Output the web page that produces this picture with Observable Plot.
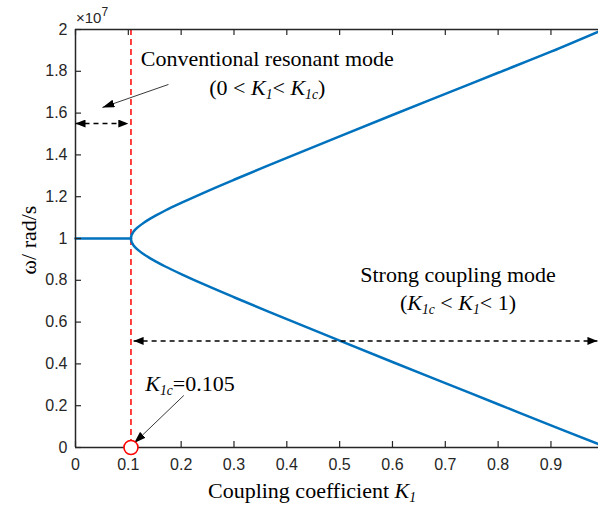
<!DOCTYPE html>
<html>
<head>
<meta charset="utf-8">
<script src="https://cdn.jsdelivr.net/npm/d3@7"></script>
<script src="https://cdn.jsdelivr.net/npm/@observablehq/plot@0.6"></script>
<style>
  html, body { margin: 0; padding: 0; background: #fff; }
  #chart svg { display: block; }
</style>
</head>
<body>
<div id="chart"></div>
<script>
// ---------- data (ω in units of 10^7 rad/s) ----------
const xTicks = [0, 0.1, 0.2, 0.3, 0.4, 0.5, 0.6, 0.7, 0.8, 0.9];
const xTickLabels = ["0", "0.1", "0.2", "0.3", "0.4", "0.5", "0.6", "0.7", "0.8", "0.9"];
const yTicks = [0, 0.2, 0.4, 0.6, 0.8, 1, 1.2, 1.4, 1.6, 1.8, 2];
const yTickLabels = ["0", "0.2", "0.4", "0.6", "0.8", "1", "1.2", "1.4", "1.6", "1.8", "2"];

const criticalK = 0.105;

const kFlat = [0, 0.105];
const omegaFlat = [1, 1];

const kBranch    = [0.105, 0.106, 0.108, 0.11, 0.115, 0.12, 0.13, 0.14, 0.15, 0.17, 0.2, 0.25, 0.3, 0.4, 0.5, 0.6, 0.7, 0.8, 0.9, 0.99];
const omegaUpper = [1.000, 1.015, 1.025, 1.033, 1.047, 1.058, 1.077, 1.093, 1.107, 1.134, 1.170, 1.227, 1.281, 1.386, 1.489, 1.591, 1.692, 1.793, 1.894, 1.990];
const omegaLower = [1.000, 0.985, 0.975, 0.967, 0.953, 0.942, 0.923, 0.907, 0.893, 0.866, 0.830, 0.773, 0.719, 0.614, 0.511, 0.409, 0.308, 0.207, 0.106, 0.016];

// annotation spans / pointers (data coordinates)
const convSpanK = [0, 0.1];       const convSpanOmega = 1.55;
const strongSpanK = [0.11, 0.988]; const strongSpanOmega = 0.51;
const convPointer = {k1: 0.176, w1: 1.737, k2: 0.051, w2: 1.627};
const critPointer = {k1: 0.205, w1: 0.249, k2: 0.111, w2: 0.021};

// ---------- layout ----------
const W = 598, H = 509;
const mL = 75, mT = 29, mB = 62, mR = 0;
const innerW = W - mL - mR, innerH = H - mT - mB;
const axisColor = "#262626";
const lineColor = "#0072BD";

const flatData = kFlat.map((k, i) => ({k, w: omegaFlat[i]}));
const branchData = [
  ...kBranch.map((k, i) => ({k, w: omegaLower[i]})).reverse(),
  ...kBranch.slice(1).map((k, i) => ({k, w: omegaUpper[i + 1]}))
];

const chart = Plot.plot({
  width: W, height: H,
  marginLeft: mL, marginTop: mT, marginBottom: mB, marginRight: mR,
  x: {domain: [0, 0.99]},
  y: {domain: [0, 2]},
  style: {background: "#fff", fontFamily: "'Liberation Sans', Arial, sans-serif", fontSize: "16px", overflow: "visible"},
  marks: [
    // critical coupling line
    Plot.ruleX([criticalK], {stroke: "#ff0000", strokeWidth: 1.5, strokeDasharray: "6,4"}),
    // curves
    Plot.line(flatData, {x: "k", y: "w", stroke: lineColor, strokeWidth: 2.5}),
    Plot.line(branchData, {x: "k", y: "w", stroke: lineColor, strokeWidth: 2.5, curve: "catmull-rom"}),
    // box lines
    Plot.ruleY([0, 2], {stroke: axisColor, strokeWidth: 1.5}),
    Plot.ruleX([0], {stroke: axisColor, strokeWidth: 1.5}),
    // inward ticks
    Plot.ruleX(xTicks, {stroke: axisColor, strokeWidth: 1.2, insetTop: innerH - 6}),
    Plot.ruleX(xTicks, {stroke: axisColor, strokeWidth: 1.2, insetBottom: innerH - 6}),
    Plot.ruleY(yTicks, {stroke: axisColor, strokeWidth: 1.2, insetRight: innerW - 6}),
    // tick labels
    Plot.axisX(xTicks, {tickSize: 0, tickPadding: 11, label: null, color: axisColor, fontSize: 16,
      tickFormat: d => xTickLabels[xTicks.indexOf(d)]}),
    Plot.axisY(yTicks, {tickSize: 0, tickPadding: 8, label: null, color: axisColor, fontSize: 16,
      tickFormat: d => yTickLabels[yTicks.indexOf(d)]}),
    // dashed double arrows
    Plot.link([{k1: convSpanK[0], k2: convSpanK[1], w: convSpanOmega},
               {k1: strongSpanK[0], k2: strongSpanK[1], w: strongSpanOmega}],
      {x1: "k1", x2: "k2", y1: "w", y2: "w", stroke: "#000", strokeWidth: 1.5,
       strokeDasharray: "5,4", className: "dbl-arrow"}),
    // pointer arrows
    Plot.link([convPointer, critPointer],
      {x1: "k1", y1: "w1", x2: "k2", y2: "w2", stroke: "#222", strokeWidth: 0.9, className: "ptr-arrow"}),
    // critical point marker
    Plot.dot([{k: criticalK, w: 0}], {x: "k", y: "w", r: 7, stroke: "#ff0000", strokeWidth: 1.6, fill: "#fff"})
  ]
});

document.getElementById("chart").appendChild(chart);

// ---------- markers & rich text ----------
const svg = d3.select(chart);
const xs = chart.scale("x"), ys = chart.scale("y");
const X = v => xs.apply(v), Y = v => ys.apply(v);

const defs = svg.insert("defs", ":first-child");
function addMarker(id, len, wid) {
  defs.append("marker")
    .attr("id", id).attr("viewBox", `0 0 ${len} ${wid}`)
    .attr("refX", len).attr("refY", wid / 2)
    .attr("markerWidth", len).attr("markerHeight", wid)
    .attr("markerUnits", "userSpaceOnUse")
    .attr("orient", "auto-start-reverse")
    .append("path").attr("d", `M0,0L${len},${wid / 2}L0,${wid}Z`).attr("fill", "#000");
}
addMarker("head-dbl", 10, 8);
addMarker("head-ptr", 12, 8);
svg.selectAll(".dbl-arrow path").attr("marker-start", "url(#head-dbl)").attr("marker-end", "url(#head-dbl)");
svg.selectAll(".ptr-arrow path").attr("marker-end", "url(#head-ptr)");

const serif = "'Liberation Serif', 'Times New Roman', serif";
function rich(x, y, parts, {anchor = "middle", size = 22, rotate = 0} = {}) {
  const t = svg.append("text")
    .attr("x", x).attr("y", y)
    .attr("text-anchor", anchor)
    .style("font-family", serif)
    .style("font-size", size + "px")
    .attr("fill", "#000");
  if (rotate) t.attr("transform", `rotate(${rotate},${x},${y})`);
  let shifted = false;
  const subShift = size * 0.16;
  for (const [s, style] of parts) {
    const sp = t.append("tspan").text(s);
    if (style.includes("i")) sp.style("font-style", "italic");
    if (style.includes("s")) {
      sp.style("font-size", (size * 0.62) + "px");
      if (!shifted) { sp.attr("dy", subShift); shifted = true; }
    } else if (shifted) {
      sp.attr("dy", -subShift); shifted = false;
    }
  }
  return t;
}

// region labels
rich(X(0.364), Y(1.823), [["Conventional resonant mode", ""]]);
rich(X(0.364), Y(1.684), [["(0 < ", ""], ["K", "i"], ["1", "is"], ["< ", ""], ["K", "i"], ["1c", "is"], [")", ""]]);
rich(X(0.725), Y(0.789), [["Strong coupling mode", ""]]);
rich(X(0.725), Y(0.655), [["(", ""], ["K", "i"], ["1c", "is"], [" < ", ""], ["K", "i"], ["1", "is"], ["< 1)", ""]]);
rich(X(0.133), Y(0.268), [["K", "i"], ["1c", "is"], ["=0.105", ""]], {anchor: "start"});

// axis titles
rich(312, 498, [["Coupling coefficient ", ""], ["K", "i"], ["1", "is"]]);
rich(36, 240, [["ω/ rad/s", ""]], {rotate: -90});

// exponent label
const ex = svg.append("text")
  .attr("x", X(0) + 1).attr("y", Y(2) - 6)
  .attr("text-anchor", "start")
  .style("font-family", "'Liberation Sans', Arial, sans-serif")
  .style("font-size", "15px").attr("fill", axisColor);
ex.append("tspan").text("×10");
ex.append("tspan").text("7").style("font-size", "12px").attr("dy", -7);
</script>
</body>
</html>
